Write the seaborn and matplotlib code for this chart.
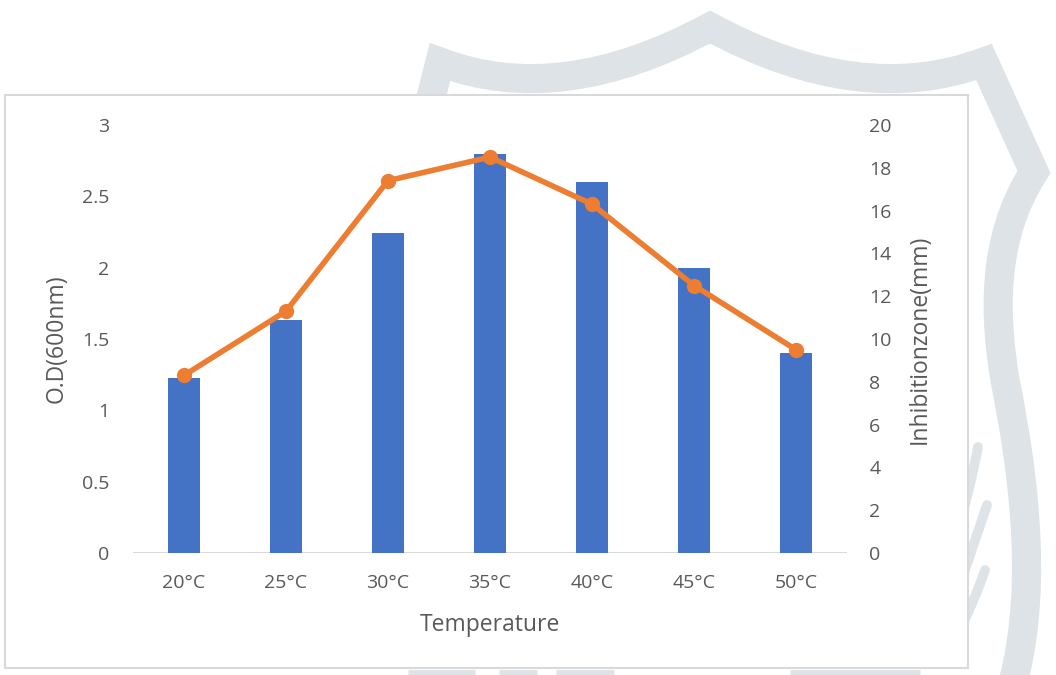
import matplotlib
matplotlib.use("Agg")
import matplotlib.pyplot as plt
from matplotlib.path import Path
from matplotlib.patches import PathPatch, Rectangle
import seaborn as sns
import pandas as pd

# ---- data ----
temperatures = ["20°C", "25°C", "30°C", "35°C", "40°C", "45°C", "50°C"]
od_600 = [1.23, 1.63, 2.24, 2.80, 2.60, 2.00, 1.40]
inhibition_zone = [8.3, 11.3, 17.4, 18.5, 16.3, 12.5, 9.5]
od_ticks = [0, 0.5, 1, 1.5, 2, 2.5, 3]
od_tick_labels = ["0", "0.5", "1", "1.5", "2", "2.5", "3"]
zone_ticks = [0, 2, 4, 6, 8, 10, 12, 14, 16, 18, 20]

df = pd.DataFrame({"Temperature": temperatures, "OD": od_600, "Zone": inhibition_zone})

sns.set_theme(style="white")
plt.rcParams["font.family"] = ["Open Sans", "DejaVu Sans"]

BAR_BLUE = "#4472C4"
LINE_ORANGE = "#ED7D31"
TEXT_GREY = "#595959"
WATERMARK = "#dde3e6"

W, H = 1056, 675
fig = plt.figure(figsize=(W / 100, H / 100), dpi=100)
fig.patch.set_facecolor("white")


def px(x, y):
    return (x / W, 1 - y / H)


def emblem_stroke(points, codes, width, cap="butt"):
    path = Path([px(*p) for p in points], codes)
    fig.add_artist(PathPatch(path, transform=fig.transFigure, facecolor="none",
                             edgecolor=WATERMARK, linewidth=width, capstyle=cap,
                             joinstyle="miter", zorder=0))


# faint shield emblem in the background
emblem_stroke(
    [(400, 220), (440, 62), (560, 108), (710, 27),
     (860, 108), (984, 62), (1034, 172),
     (990, 240), (995, 320), (1005, 380),
     (1025, 480), (1040, 600), (1008, 700)],
    [Path.MOVETO, Path.LINETO, Path.CURVE3, Path.CURVE3,
     Path.CURVE3, Path.CURVE3, Path.LINETO,
     Path.CURVE4, Path.CURVE4, Path.CURVE4,
     Path.CURVE4, Path.CURVE4, Path.CURVE4],
    width=21)
for pts in ([(955, 540), (970, 490), (978, 447)],
            [(955, 600), (975, 540), (987, 505)],
            [(955, 640), (975, 600), (985, 570)]):
    emblem_stroke(pts, [Path.MOVETO, Path.CURVE3, Path.CURVE3], width=7, cap="round")
for x0, x1 in ((408, 475), (499, 537), (556, 614), (790, 920)):
    emblem_stroke([(x0, 673), (x1, 673)], [Path.MOVETO, Path.LINETO], width=5)

# chart frame
fx0, fy0 = px(5, 668)
fx1, fy1 = px(968, 95)
fig.add_artist(Rectangle((fx0, fy0), fx1 - fx0, fy1 - fy0, transform=fig.transFigure,
                         facecolor="white", edgecolor="#d9d9d9", linewidth=1.5, zorder=1))

# plot area
left, right = 133 / W, 847 / W
bottom, top = 1 - 553 / H, 1 - 125 / H
ax = fig.add_axes([left, bottom, right - left, top - bottom], zorder=2)
ax.patch.set_alpha(0)

sns.barplot(data=df, x="Temperature", y="OD", ax=ax, color=BAR_BLUE,
            width=0.31, saturation=1, edgecolor="none")
ax.set_ylim(0, 3)
ax.set_xlim(-0.5, len(temperatures) - 0.5)
ax.set_yticks(od_ticks)
ax.set_yticklabels(od_tick_labels)

ax2 = ax.twinx()
ax2.set_zorder(3)
ax2.patch.set_alpha(0)
sns.lineplot(data=df, x="Temperature", y="Zone", ax=ax2, sort=False,
             color=LINE_ORANGE, linewidth=4, marker="o", markersize=11,
             markeredgecolor=LINE_ORANGE, markeredgewidth=0)
ax2.set_ylim(0, 20)
ax2.set_yticks(zone_ticks)
ax2.set_xlim(-0.5, len(temperatures) - 0.5)

for a in (ax, ax2):
    for s in a.spines.values():
        s.set_visible(False)
    a.grid(False)
    a.tick_params(length=0, labelsize=14, labelcolor=TEXT_GREY)
ax.tick_params(axis="y", pad=17)
ax.tick_params(axis="x", pad=15)
ax2.tick_params(axis="y", pad=16)

# category axis line
ax.axhline(0, color="#d9d9d9", linewidth=1.5, zorder=0.5)

ax.set_xlabel("Temperature", fontsize=16.5, color=TEXT_GREY)
ax.xaxis.set_label_coords(0.5, -0.168)
ax.xaxis.label.set_va("center")
ax.set_ylabel("O.D(600nm)", fontsize=16.5, color=TEXT_GREY)
ax.yaxis.set_label_coords((57 - 133) / 714, 0.5)
ax.yaxis.label.set_va("center")
ax2.set_ylabel("Inhibitionzone(mm)", fontsize=16.5, color=TEXT_GREY)
ax2.yaxis.set_label_coords((920 - 133) / 714, 0.5)
ax2.yaxis.label.set_va("center")

fig.savefig("out.png", dpi=100, facecolor="white")
